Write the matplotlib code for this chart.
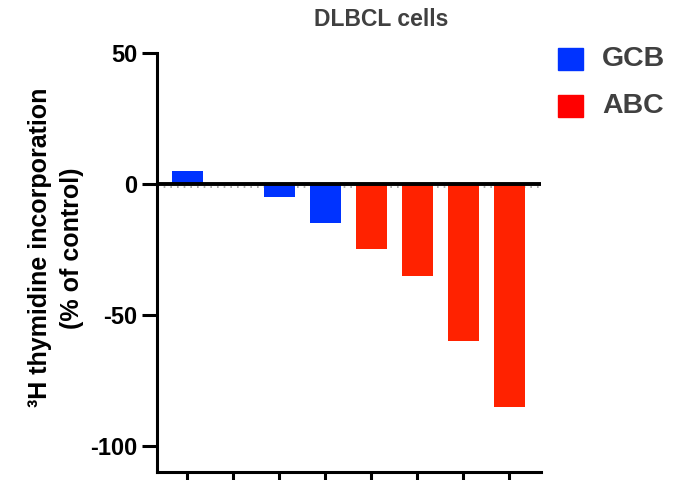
import matplotlib.pyplot as plt
import numpy as np

plt.rcParams["font.family"] = ["Liberation Sans", "DejaVu Sans"]
plt.rcParams["font.weight"] = "bold"

cell_lines = [1, 2, 3, 4, 5, 6, 7, 8]
values = [5, 0, -5, -15, -25, -35, -60, -85]
groups = ["GCB", "GCB", "GCB", "GCB", "ABC", "ABC", "ABC", "ABC"]
bar_colors = {"GCB": "#0033ff", "ABC": "#ff2200"}
legend_colors = {"GCB": "#0033ff", "ABC": "#ff0000"}

fig = plt.figure(figsize=(6.86, 4.8), dpi=100)
ax = fig.add_axes([0.229, 0.0167, 0.56, 0.873])

ax.bar(cell_lines, values, width=0.67,
       color=[bar_colors[g] for g in groups],
       zorder=2)
ax.axhline(-1.1, color="#999999", lw=1.2, ls=(0, (1, 3)), zorder=1)
ax.axhline(0, color="black", lw=2.8, zorder=3)

ax.set_xlim(0.348, 8.696)
ax.set_ylim(-110, 50)
ax.set_xticks(cell_lines)
ax.set_xticklabels([])
ax.set_yticks([50, 0, -50, -100])
ax.set_yticklabels(["50", "0", "-50", "-100"])
ax.tick_params(axis="both", width=2.2, length=10.5, direction="out",
               labelsize=17, pad=3.5)
for side in ["top", "right"]:
    ax.spines[side].set_visible(False)
for side in ["left", "bottom"]:
    ax.spines[side].set_linewidth(2.2)

ax.set_ylabel("³H thymidine incorporation\n(% of control)",
              fontsize=18, fontweight="bold", linespacing=1.45)
ax.yaxis.set_label_coords(-0.19, 0.535)

fig.text(0.556, 0.96, "DLBCL cells", ha="center", va="center",
         fontsize=16.5, fontweight="bold", color="#404040")

for i, name in enumerate(["GCB", "ABC"]):
    y = 0.877 - i * 0.098
    fig.patches.append(plt.Rectangle((0.814, y - 0.023), 0.036, 0.046,
                                     transform=fig.transFigure,
                                     color=legend_colors[name]))
    fig.text(0.878, y, name, ha="left", va="center", fontsize=20.5,
             fontweight="bold", color="#404040")

fig.savefig("out.png", dpi=100)
